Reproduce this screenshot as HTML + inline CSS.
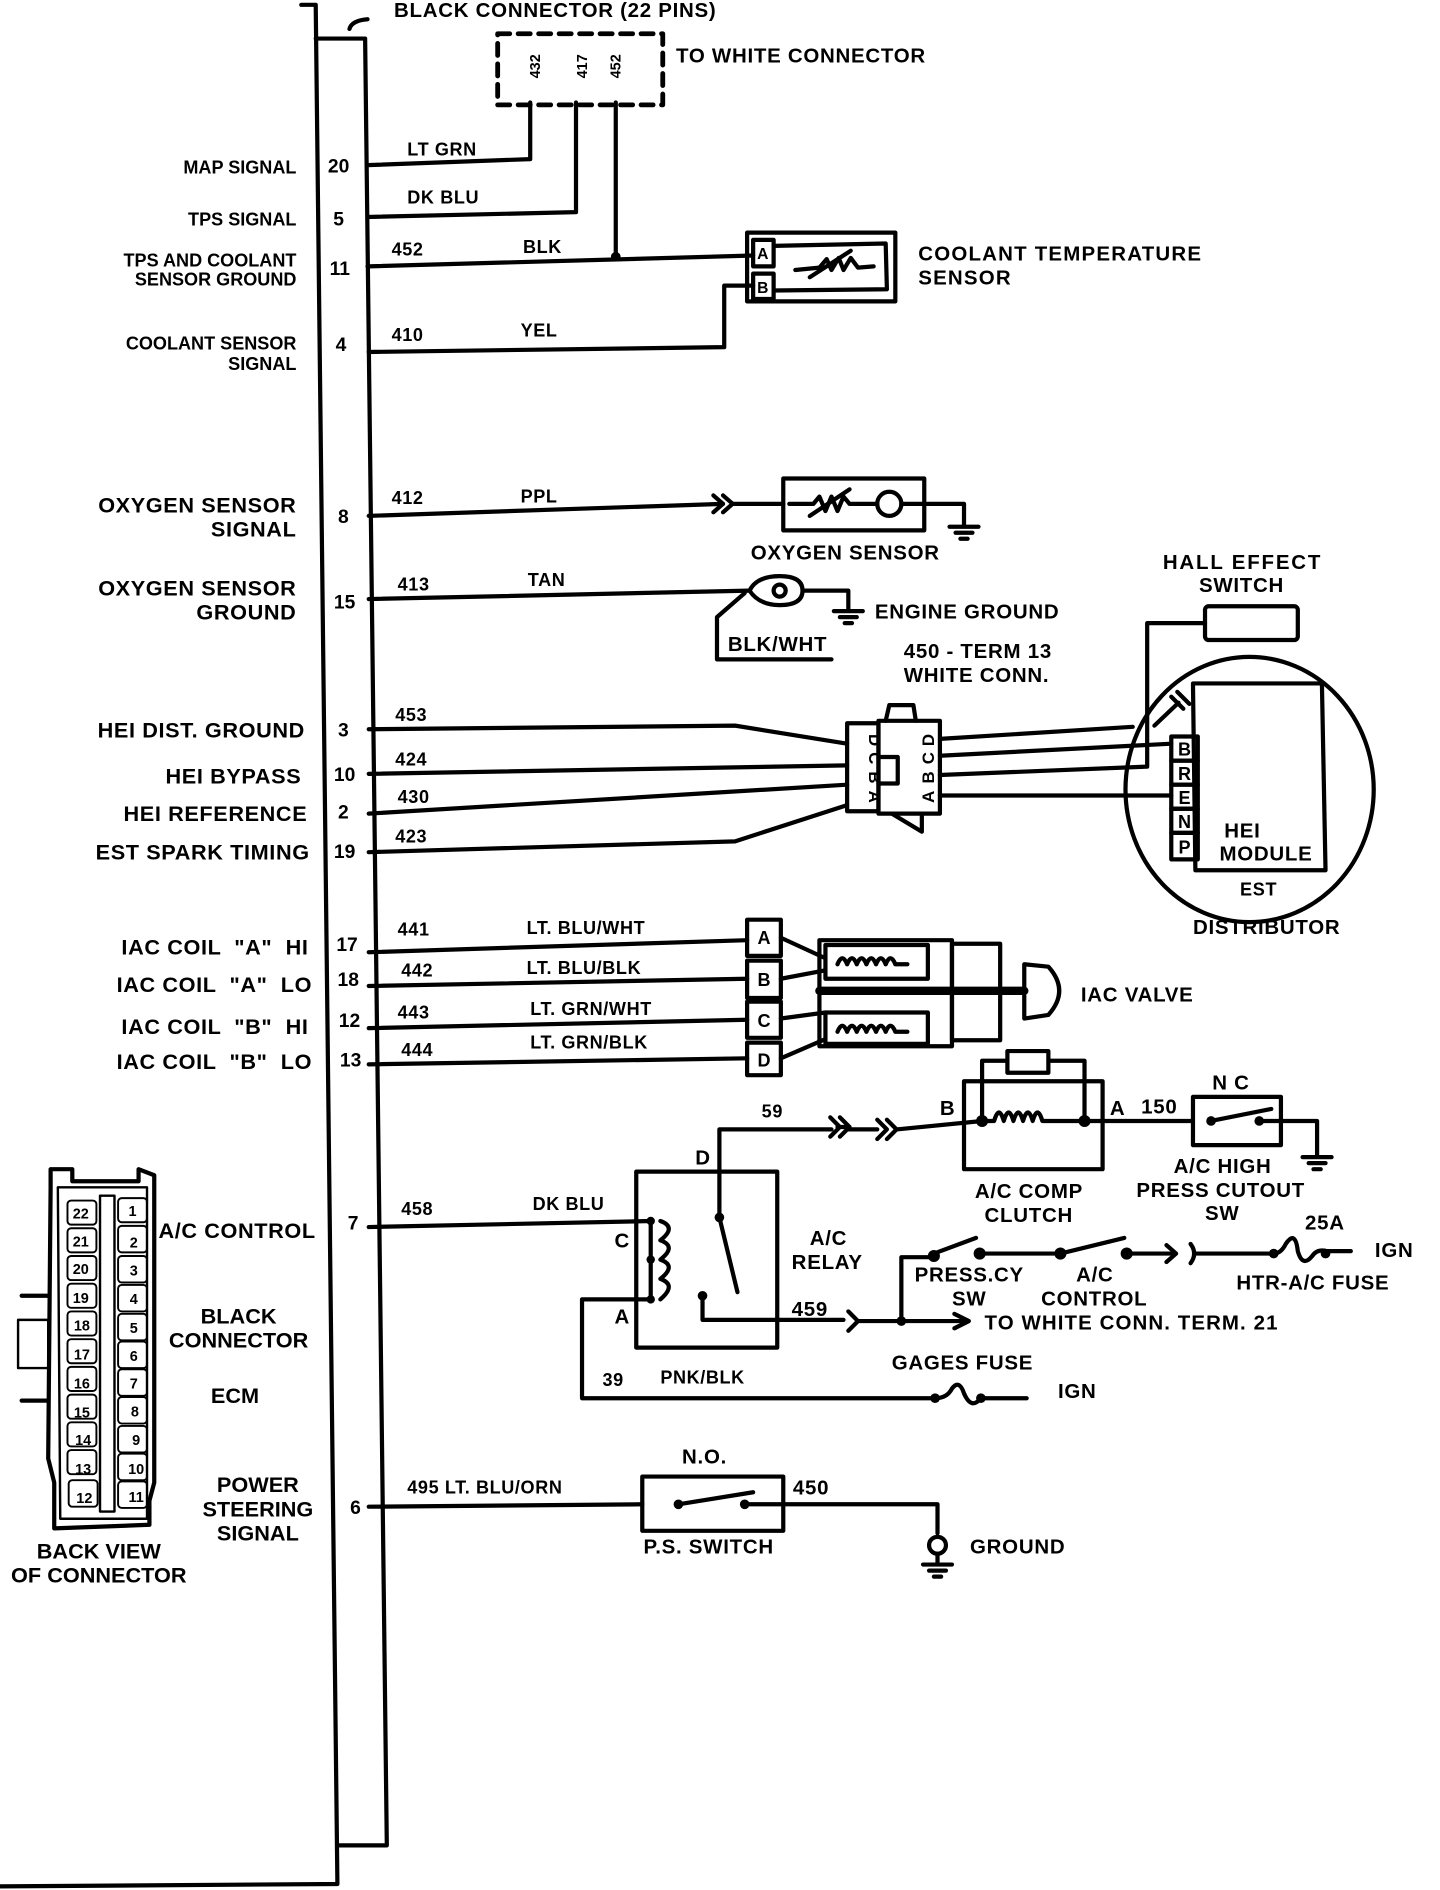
<!DOCTYPE html>
<html><head><meta charset="utf-8"><style>
html,body{margin:0;padding:0;background:#fff;}
svg{display:block}
text{font-family:"Liberation Sans",Arial,sans-serif;font-weight:bold;fill:#000;white-space:pre}
</style></head><body>
<svg width="1440" height="1890" viewBox="0 0 1195 1568" preserveAspectRatio="none" xmlns="http://www.w3.org/2000/svg">
<g fill="none" stroke="#000" stroke-width="3.5" stroke-linejoin="round" stroke-linecap="round">
<polyline points="250,4 262,4 280,1563 0,1565"/>
<polyline points="262,32 303,32 321,1531 280,1531"/>
<path d="M290,24 Q292,17 305,16" />
<rect x="413" y="28" width="137" height="59" stroke-dasharray="10,7" stroke-width="4"/>
<polyline points="305,137 440,132 440,85"/>
<polyline points="305,180 478,176 478,85"/>
<polyline points="305,221 625,212"/>
<polyline points="511,85 511,213"/>
<polyline points="306,292 601,288 601,237 625,237"/>
<rect x="620" y="193" width="123" height="57"/>
<rect x="625" y="199" width="17" height="22"/>
<rect x="625" y="227" width="17" height="21"/>
<polyline points="642,204 735,202 736,240 642,241"/>
<polyline points="660,224 680,222 686,215 690,224 696,214 700,224 706,214 712,222 725,221"/>
<line x1="672" y1="230" x2="706" y2="208"/>
<polyline points="306,428 600,418"/>
<polyline points="592,411 600,418 592,425"/><polyline points="600,411 608,418 600,425"/>
<line x1="608" y1="418" x2="650" y2="418"/>
<rect x="650" y="397" width="117" height="43"/>
<polyline points="655,418 675,418 680,412 685,424 690,412 695,424 700,412 705,418 728,418"/>
<line x1="672" y1="428" x2="705" y2="406"/>
<circle cx="738" cy="418" r="10"/>
<polyline points="748,418 800,418 800,436"/>
<line x1="788" y1="437" x2="812" y2="437"/><line x1="793" y1="442" x2="807" y2="442"/><line x1="797" y1="447" x2="803" y2="447"/>
<polyline points="306,497 622,490"/>
<path d="M622,490 Q628,478 647,478 Q666,478 666,490 Q666,502 647,502 Q630,502 622,490"/>
<circle cx="647" cy="490" r="5"/>
<polyline points="666,490 704,490 704,505"/>
<line x1="692" y1="507" x2="716" y2="507"/><line x1="697" y1="512" x2="711" y2="512"/><line x1="701" y1="517" x2="707" y2="517"/>
<polyline points="618,492 595,512 595,547 690,547"/>
<polyline points="306,605 610,602 703,617"/>
<polyline points="306,642 703,635"/>
<polyline points="306,675 703,651"/>
<polyline points="306,707 610,698 703,668"/>
<rect x="703" y="600" width="26" height="73"/>
<rect x="729" y="598" width="51" height="77"/>
<polyline points="735,598 738,585 758,585 760,598"/>
<polyline points="740,675 765,690 765,675"/>
<path d="M729,628 L745,628 L745,650 L729,650" />
<polyline points="780,613 940,603"/>
<polyline points="780,627 972,617"/>
<polyline points="780,643 952,636 952,517 1000,517"/>
<polyline points="780,660 972,660"/>
<ellipse cx="1037" cy="655" rx="103" ry="110"/>
<rect x="1000" y="503" width="77" height="28" rx="3"/>
<polyline points="990,567 1097,567 1100,722 992,722 990,567"/>
<rect x="972" y="611" width="22" height="20"/>
<rect x="972" y="631" width="22" height="20"/>
<rect x="972" y="651" width="22" height="20"/>
<rect x="972" y="671" width="22" height="20"/>
<rect x="972" y="691" width="22" height="22"/>
<line x1="958" y1="602" x2="978" y2="583"/>
<line x1="972" y1="578" x2="982" y2="588"/><line x1="977" y1="574" x2="987" y2="584"/>
<polyline points="306,790 620,780"/>
<polyline points="306,818 620,812"/>
<polyline points="306,853 620,846"/>
<polyline points="306,883 620,878"/>
<rect x="620" y="763" width="28" height="30"/>
<rect x="620" y="797" width="28" height="31"/>
<rect x="620" y="831" width="28" height="30"/>
<rect x="620" y="865" width="28" height="27"/>
<polyline points="648,778 685,795"/><polyline points="648,812 685,805"/>
<polyline points="648,845 685,840"/><polyline points="648,878 685,862"/>
<rect x="680" y="780" width="110" height="88"/>
<rect x="685" y="784" width="85" height="28"/>
<rect x="685" y="840" width="85" height="26"/>
<path d="M695,800 q4,-10 8,0 q4,-10 8,0 q4,-10 8,0 q4,-10 8,0 q4,-10 8,0 q4,-10 8,0 l10,0"/>
<path d="M695,856 q4,-10 8,0 q4,-10 8,0 q4,-10 8,0 q4,-10 8,0 q4,-10 8,0 q4,-10 8,0 l10,0"/>
<rect x="790" y="783" width="40" height="80"/>
<line x1="680" y1="822" x2="850" y2="822" stroke-width="7"/>
<path d="M850,800 L850,845 L870,842 Q888,822 870,802 Z"/>
<polyline points="306,1018 540,1013"/>
<rect x="528" y="972" width="117" height="146"/>
<path d="M548,1013 q14,5 0,16 q14,5 0,16 q14,5 0,16 q14,5 0,17"/>
<line x1="540" y1="1013" x2="540" y2="1078"/>
<polyline points="540,1078 483,1078 483,1160 776,1160"/>
<polyline points="597,1010 597,937 690,937"/>
<line x1="597" y1="1010" x2="612" y2="1072"/>
<polyline points="583,1075 583,1095 700,1095"/>
<path d="M695,935 l8,0 m-14,-8 l8,8 l-8,8 m8,-16 l8,8 l-8,8"/>
<polyline points="728,929 736,937 728,945"/><polyline points="736,929 744,937 736,945"/>
<line x1="703" y1="937" x2="728" y2="937"/>
<line x1="744" y1="937" x2="815" y2="930"/>
<polyline points="704,1088 712,1096 704,1104"/>
<line x1="712" y1="1096" x2="800" y2="1096"/>
<polyline points="792,1090 804,1096 792,1102"/>
<polyline points="748,1096 748,1043 775,1043"/>
<rect x="800" y="897" width="115" height="73"/>
<polyline points="815,930 815,880 900,880 900,930"/>
<rect x="836" y="872" width="34" height="18" fill="#fff"/>
<path d="M815,930 l10,0 q4,-14 8,0 q4,-14 8,0 q4,-14 8,0 q4,-14 8,0 q4,-14 8,0 l35,0"/>
<line x1="900" y1="930" x2="990" y2="930"/>
<rect x="990" y="910" width="73" height="40"/>
<line x1="1005" y1="930" x2="1055" y2="920"/>
<polyline points="1045,930 1093,930 1093,958"/>
<line x1="1081" y1="960" x2="1105" y2="960"/><line x1="1086" y1="965" x2="1100" y2="965"/><line x1="1090" y1="970" x2="1096" y2="970"/>
<line x1="775" y1="1040" x2="810" y2="1027"/>
<line x1="813" y1="1040" x2="880" y2="1040"/>
<line x1="880" y1="1040" x2="933" y2="1027"/>
<line x1="935" y1="1040" x2="975" y2="1040"/>
<polyline points="968,1033 976,1040 968,1047"/>
<path d="M988,1032 q6,8 0,16"/>
<line x1="991" y1="1040" x2="1057" y2="1040"/>
<path d="M1057,1040 q6,0 10,-8 q8,-12 10,6 q4,14 12,4 q4,-6 12,-4 l20,0"/>
<path d="M776,1160 q10,0 14,-8 q6,-8 10,4 q6,14 14,4 l38,0"/>
<polyline points="306,1250 533,1248"/>
<rect x="533" y="1225" width="117" height="45"/>
<line x1="563" y1="1248" x2="625" y2="1238"/>
<polyline points="618,1248 650,1248 778,1248 778,1272"/>
<circle cx="778" cy="1282" r="7"/>
<line x1="778" y1="1289" x2="778" y2="1297"/>
<line x1="766" y1="1298" x2="790" y2="1298"/><line x1="771" y1="1303" x2="785" y2="1303"/><line x1="775" y1="1308" x2="781" y2="1308"/>
<path d="M42,985 L42,970 L60,970 L60,980 L115,980 L115,970 L128,975 L128,1230 L124,1245 L124,1265 L45,1268 L45,1230 L40,1210 Z"/>
<path d="M48,985 L122,985 L122,1260 L50,1260 Z" stroke-width="2"/>
<line x1="18" y1="1075" x2="40" y2="1075"/><line x1="18" y1="1162" x2="40" y2="1162"/>
<rect x="15" y="1095" width="25" height="40" stroke-width="2"/>
<rect x="83" y="992" width="12" height="262" stroke-width="2"/>
</g>
<g fill="#000">
<circle cx="511" cy="213" r="4"/>
<circle cx="597" cy="1010" r="4"/><circle cx="583" cy="1075" r="4"/>
<circle cx="540" cy="1013" r="3.5"/><circle cx="540" cy="1045" r="3.5"/><circle cx="540" cy="1078" r="3.5"/>
<circle cx="815" cy="930" r="5"/><circle cx="900" cy="930" r="5"/>
<circle cx="1005" cy="930" r="4"/><circle cx="1045" cy="930" r="4"/>
<circle cx="748" cy="1096" r="4"/>
<circle cx="775" cy="1042" r="5"/><circle cx="813" cy="1040" r="5"/><circle cx="880" cy="1040" r="5"/><circle cx="935" cy="1040" r="5"/>
<circle cx="1057" cy="1040" r="4"/><circle cx="1100" cy="1040" r="4"/>
<circle cx="776" cy="1160" r="4"/><circle cx="814" cy="1160" r="4"/>
<circle cx="563" cy="1248" r="4"/><circle cx="618" cy="1248" r="4"/>
</g>
<g font-size="17" letter-spacing="0.6">
<text x="327" y="14">BLACK CONNECTOR (22 PINS)</text>
<text x="561" y="52">TO WHITE CONNECTOR</text>
<text x="762" y="216" letter-spacing="1">COOLANT TEMPERATURE</text>
<text x="762" y="236" letter-spacing="1">SENSOR</text>
<text x="623" y="464">OXYGEN SENSOR</text>
<text x="726" y="513">ENGINE GROUND</text>
<text x="604" y="540">BLK/WHT</text>
<text x="750" y="546">450 - TERM 13</text>
<text x="750" y="566">WHITE CONN.</text>
<text x="965" y="472" letter-spacing="1.5">HALL EFFECT</text>
<text x="995" y="491">SWITCH</text>
<text x="1016" y="695">HEI</text>
<text x="1012" y="714">MODULE</text>
<text x="1029" y="743" font-size="15">EST</text>
<text x="990" y="775">DISTRIBUTOR</text>
<text x="897" y="831">IAC VALVE</text>
<text x="632" y="927" font-size="15">59</text>
<text x="577" y="966">D</text>
<text x="510" y="1035">C</text>
<text x="510" y="1098">A</text>
<text x="672" y="1033">A/C</text>
<text x="657" y="1053">RELAY</text>
<text x="657" y="1092">459</text>
<text x="780" y="925">B</text>
<text x="921" y="925">A</text>
<text x="947" y="924">150</text>
<text x="1006" y="904">N C</text>
<text x="809" y="994">A/C COMP</text>
<text x="817" y="1014">CLUTCH</text>
<text x="974" y="973">A/C HIGH</text>
<text x="943" y="993">PRESS CUTOUT</text>
<text x="1000" y="1012">SW</text>
<text x="1083" y="1020">25A</text>
<text x="1141" y="1043">IGN</text>
<text x="1026" y="1070">HTR-A/C FUSE</text>
<text x="759" y="1063">PRESS.CY</text>
<text x="790" y="1083">SW</text>
<text x="893" y="1063">A/C</text>
<text x="864" y="1083">CONTROL</text>
<text x="817" y="1103" letter-spacing="0.9">TO WHITE CONN. TERM. 21</text>
<text x="740" y="1136">GAGES FUSE</text>
<text x="878" y="1160">IGN</text>
<text x="566" y="1214">N.O.</text>
<text x="658" y="1240">450</text>
<text x="534" y="1289">P.S. SWITCH</text>
<text x="805" y="1289">GROUND</text>
</g>
<g font-size="15" letter-spacing="0.5">
<text x="338" y="129">LT GRN</text>
<text x="338" y="169">DK BLU</text>
<text x="325" y="212">452</text><text x="434" y="210">BLK</text>
<text x="325" y="283">410</text><text x="432" y="279">YEL</text>
<text x="325" y="418">412</text><text x="432" y="417">PPL</text>
<text x="330" y="490">413</text><text x="438" y="486">TAN</text>
<text x="328" y="598">453</text>
<text x="328" y="635">424</text>
<text x="330" y="666">430</text>
<text x="328" y="699">423</text>
<text x="330" y="776">441</text><text x="437" y="775">LT. BLU/WHT</text>
<text x="333" y="810">442</text><text x="437" y="808">LT. BLU/BLK</text>
<text x="330" y="845">443</text><text x="440" y="842">LT. GRN/WHT</text>
<text x="333" y="876">444</text><text x="440" y="870">LT. GRN/BLK</text>
<text x="333" y="1008">458</text><text x="442" y="1004">DK BLU</text>
<text x="500" y="1150">39</text><text x="548" y="1148">PNK/BLK</text>
<text x="338" y="1239">495 LT. BLU/ORN</text>
</g>
<g font-size="12" text-anchor="middle">
<text transform="translate(448,55) rotate(-90)">432</text>
<text transform="translate(487,55) rotate(-90)">417</text>
<text transform="translate(515,55) rotate(-90)">452</text>
<text x="633" y="215" font-size="13">A</text>
<text x="633" y="243" font-size="13">B</text>
<text transform="translate(721,614) rotate(90)" font-size="14">D</text>
<text transform="translate(721,629) rotate(90)" font-size="14">C</text>
<text transform="translate(721,645) rotate(90)" font-size="14">B</text>
<text transform="translate(721,661) rotate(90)" font-size="14">A</text>
<text transform="translate(775,661) rotate(-90)" font-size="14">A</text>
<text transform="translate(775,645) rotate(-90)" font-size="14">B</text>
<text transform="translate(775,629) rotate(-90)" font-size="14">C</text>
<text transform="translate(775,614) rotate(-90)" font-size="14">D</text>
<g font-size="15">
<text x="983" y="627">B</text><text x="983" y="647">R</text><text x="983" y="667">E</text><text x="983" y="687">N</text><text x="983" y="708">P</text>
<text x="634" y="783">A</text><text x="634" y="818">B</text><text x="634" y="852">C</text><text x="634" y="885">D</text>
</g>
</g>
<g font-size="15" text-anchor="end">
<text x="246" y="144">MAP SIGNAL</text>
<text x="246" y="187">TPS SIGNAL</text>
<text x="246" y="221">TPS AND COOLANT</text>
<text x="246" y="237">SENSOR GROUND</text>
<text x="246" y="290">COOLANT SENSOR</text>
<text x="246" y="307">SIGNAL</text>
</g>
<g font-size="18" text-anchor="end" letter-spacing="0.5">
<text x="246" y="425">OXYGEN SENSOR</text>
<text x="246" y="445">SIGNAL</text>
<text x="246" y="494">OXYGEN SENSOR</text>
<text x="246" y="514">GROUND</text>
<text x="253" y="612">HEI DIST. GROUND</text>
<text x="250" y="650">HEI BYPASS</text>
<text x="255" y="681">HEI REFERENCE</text>
<text x="257" y="713">EST SPARK TIMING</text>
<text x="256" y="792">IAC COIL  "A"  HI</text>
<text x="259" y="823">IAC COIL  "A"  LO</text>
<text x="256" y="858">IAC COIL  "B"  HI</text>
<text x="259" y="887">IAC COIL  "B"  LO</text>
<text x="262" y="1027">A/C CONTROL</text>
</g>
<g font-size="16" text-anchor="middle">
<text x="281" y="143">20</text><text x="281" y="187">5</text><text x="282" y="228">11</text><text x="283" y="291">4</text>
<text x="285" y="434">8</text><text x="286" y="505">15</text><text x="285" y="611">3</text><text x="286" y="648">10</text>
<text x="285" y="679">2</text><text x="286" y="712">19</text><text x="288" y="789">17</text><text x="289" y="818">18</text>
<text x="290" y="852">12</text><text x="291" y="885">13</text><text x="293" y="1020">7</text><text x="295" y="1256">6</text>
<text x="198" y="1098" font-size="18">BLACK</text>
<text x="198" y="1118" font-size="18">CONNECTOR</text>
<text x="195" y="1164" font-size="18">ECM</text>
<text x="214" y="1238" font-size="18">POWER</text>
<text x="214" y="1258" font-size="18">STEERING</text>
<text x="214" y="1278" font-size="18">SIGNAL</text>
<text x="82" y="1293" font-size="18">BACK VIEW</text>
<text x="82" y="1313" font-size="18">OF CONNECTOR</text>
</g>
<g fill="none" stroke="#000" stroke-width="1.6">
<rect x="56" y="996" width="24" height="20" rx="3"/><rect x="56" y="1019" width="24" height="20" rx="3"/><rect x="56" y="1042" width="24" height="20" rx="3"/><rect x="56" y="1065" width="24" height="20" rx="3"/><rect x="56" y="1088" width="24" height="20" rx="3"/><rect x="56" y="1111" width="24" height="20" rx="3"/><rect x="56" y="1134" width="24" height="20" rx="3"/><rect x="56" y="1157" width="24" height="20" rx="3"/><rect x="56" y="1180" width="24" height="20" rx="3"/><rect x="56" y="1203" width="24" height="20" rx="3"/><rect x="57" y="1228" width="24" height="22" rx="3"/>
<rect x="98" y="994" width="24" height="20" rx="3"/><rect x="98" y="1017" width="24" height="22" rx="3"/><rect x="98" y="1042" width="24" height="22" rx="3"/><rect x="98" y="1066" width="24" height="22" rx="3"/><rect x="98" y="1090" width="24" height="22" rx="3"/><rect x="98" y="1113" width="24" height="22" rx="3"/><rect x="98" y="1136" width="24" height="22" rx="3"/><rect x="98" y="1159" width="24" height="22" rx="3"/><rect x="98" y="1183" width="24" height="22" rx="3"/><rect x="98" y="1206" width="24" height="22" rx="3"/><rect x="98" y="1229" width="24" height="22" rx="3"/>
</g>
<g font-size="12" text-anchor="middle">
<text x="67" y="1011">22</text><text x="67" y="1034">21</text><text x="67" y="1057">20</text><text x="67" y="1081">19</text><text x="68" y="1104">18</text><text x="68" y="1128">17</text><text x="68" y="1152">16</text><text x="68" y="1176">15</text><text x="69" y="1199">14</text><text x="69" y="1223">13</text><text x="70" y="1247">12</text>
<text x="110" y="1009">1</text><text x="111" y="1035">2</text><text x="111" y="1058">3</text><text x="111" y="1082">4</text><text x="111" y="1106">5</text><text x="111" y="1129">6</text><text x="111" y="1152">7</text><text x="112" y="1175">8</text><text x="113" y="1199">9</text><text x="113" y="1223">10</text><text x="113" y="1246">11</text>
</g>
</svg>
</body></html>
